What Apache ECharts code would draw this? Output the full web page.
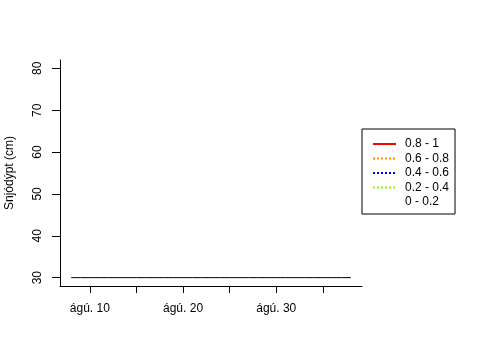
<!DOCTYPE html>
<html>
<head>
<meta charset="utf-8">
<script src="https://cdn.jsdelivr.net/npm/echarts@6/dist/echarts.min.js"></script>
<style>html,body{margin:0;padding:0;background:#fff}#c{width:480px;height:360px}</style>
</head>
<body>
<div id="c"></div>
<script>
// Data
var days = [8,9,10,11,12,13,14,15,16,17,18,19,20,21,22,23,24,25,26,27,28,29,30,31,32,33,34,35,36,37,38];
var snowDepth = [30,30,30,30,30,30,30,30,30,30,30,30,30,30,30,30,30,30,30,30,30,30,30,30,30,30,30,30,30,30,30];
var xTickValues = [10,15,20,25,30,35];
var xLabelValues = [10,20,30];
var yTickValues = [30,40,50,60,70,80];
var legendNames = ['0.8 - 1','0.6 - 0.8','0.4 - 0.6','0.2 - 0.4','0 - 0.2'];
var legendColors = ['#FF0000','#FF8C00','#0000FF','#7FFF00','#FFFFFF'];
var legendTypes = ['solid','dotted','dotted','dotted','solid'];

var FONT = 'Liberation Sans, Arial, sans-serif';
var chart = echarts.init(document.getElementById('c'), null, {renderer:'canvas'});

var series = [{
  type:'line', name:'Snjódýpt', data: days.map(function(d,i){return [d, snowDepth[i]];}),
  showSymbol:false, symbol:'none', lineStyle:{color:'#000', width:1}, itemStyle:{color:'#000'},
  animation:false, silent:true
}];
legendNames.forEach(function(n,i){
  series.push({type:'line', name:n, data:[], symbol:'none', showSymbol:false,
    lineStyle:{color:legendColors[i], width:2, type:legendTypes[i]}, itemStyle:{color:legendColors[i]}});
});

chart.setOption({
  animation:false,
  backgroundColor:'#fff',
  grid:{left:60, top:60, right:118, bottom:74, containLabel:false, outerBoundsMode:'none'},
  legend:{
    data:legendNames, orient:'vertical', left:362, top:129,
    borderColor:'#000', borderWidth:1, borderRadius:0,
    padding:[9,6,6,10], itemWidth:23, itemHeight:12, itemGap:2.5,
    itemStyle:{color:'rgba(0,0,0,0)', borderWidth:0, opacity:0},
    textStyle:{fontFamily:FONT, fontSize:12, color:'#000', padding:[0,0,0,4]},
    selectedMode:false
  },
  xAxis:{
    type:'value', min:6.8, max:39.2,
    splitLine:{show:false},
    axisLine:{show:true, lineStyle:{color:'#000', width:1}},
    axisTick:{show:true, length:7, lineStyle:{color:'#000'}, customValues:xTickValues},
    axisLabel:{customValues:xLabelValues, margin:17, color:'#000', fontFamily:FONT, fontSize:12,
      formatter:function(v){return 'ágú. ' + v;}}
  },
  yAxis:{
    type:'value', min:28, max:82,
    name:'Snjódýpt (cm)', nameLocation:'middle', nameGap:44, nameRotate:90,
    nameTextStyle:{fontFamily:FONT, fontSize:12, color:'#000'},
    splitLine:{show:false},
    axisLine:{show:true, lineStyle:{color:'#000', width:1}},
    axisTick:{show:true, length:8, lineStyle:{color:'#000'}, customValues:yTickValues},
    axisLabel:{customValues:yTickValues, rotate:90, margin:16, color:'#000', fontFamily:FONT, fontSize:12}
  },
  series:series
});
</script>
</body>
</html>
